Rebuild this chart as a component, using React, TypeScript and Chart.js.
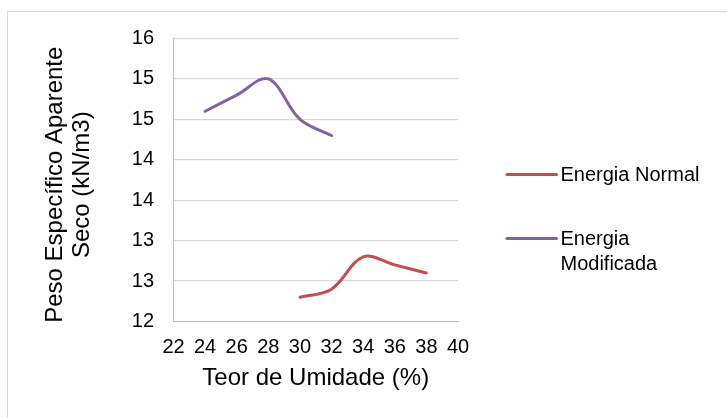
import React, { useEffect, useRef } from "react";
import { Chart, registerables } from "chart.js";

Chart.register(...registerables);

// ---- data ----
const normalMoisture = [30, 32, 34, 36, 38];
const normalWeight = [12.8, 12.9, 13.3, 13.2, 13.1];
const modMoisture = [24, 26, 28, 30, 32];
const modWeight = [15.1, 15.3, 15.5, 15.0, 14.8];
const yTickLabels = ["12", "13", "13", "14", "14", "15", "15", "16"];
const seriesNames = ["Energia Normal", "Energia Modificada"];
const legendLines = [["Energia Normal"], ["Energia", "Modificada"]];
const seriesColors = ["#C0504D", "#8064A2"];
const xTitle = "Teor de Umidade (%)";
const yTitleLines = ["Peso Específico Aparente", "Seco (kN/m3)"];

const FONT = "'Liberation Sans', Arial, sans-serif";

const extrasPlugin = {
  id: "extras",
  afterDraw(chart: any) {
    const ctx = chart.ctx as CanvasRenderingContext2D;
    const area = chart.chartArea;
    ctx.save();
    // y axis title (two lines, rotated)
    ctx.fillStyle = "#000";
    ctx.font = `24px ${FONT}`;
    ctx.textAlign = "center";
    ctx.textBaseline = "middle";
    const cy = (area.top + area.bottom) / 2 + 4.7;
    ctx.save();
    ctx.translate(55.6, cy);
    ctx.rotate(-Math.PI / 2);
    yTitleLines.forEach((line, i) => ctx.fillText(line, 0, i * 26.8));
    ctx.restore();

    // legend
    const rowsY = [174.4, 238.4];
    chart.data.datasets.forEach((ds: any, i: number) => {
      const y = rowsY[i];
      ctx.strokeStyle = ds.borderColor;
      ctx.lineWidth = 3;
      ctx.lineCap = "round";
      ctx.beginPath();
      ctx.moveTo(507, y);
      ctx.lineTo(556.5, y);
      ctx.stroke();
      ctx.fillStyle = "#000";
      ctx.font = `20px ${FONT}`;
      ctx.textAlign = "left";
      ctx.textBaseline = "middle";
      legendLines[i].forEach((line, j) => ctx.fillText(line, 560.5, y + 1 + j * 25));
    });
    ctx.restore();
  },
};

export default function App() {
  const canvasRef = useRef<HTMLCanvasElement | null>(null);

  useEffect(() => {
    const canvas = canvasRef.current;
    if (!canvas) return;
    const chart = new Chart(canvas, {
      type: "line",
      data: {
        datasets: [
          {
            label: seriesNames[0],
            data: normalMoisture.map((x, i) => ({ x, y: normalWeight[i] })),
            borderColor: seriesColors[0],
            backgroundColor: seriesColors[0],
            borderWidth: 3,
            pointRadius: 0,
            tension: 0.35,
            borderCapStyle: "round",
          },
          {
            label: seriesNames[1],
            data: modMoisture.map((x, i) => ({ x, y: modWeight[i] })),
            borderColor: seriesColors[1],
            backgroundColor: seriesColors[1],
            borderWidth: 3,
            pointRadius: 0,
            tension: 0.35,
            borderCapStyle: "round",
          },
        ],
      },
      options: {
        responsive: false,
        animation: false,
        devicePixelRatio: 1,
        layout: { padding: { top: 38.5, right: 269, left: 0, bottom: 0 } },
        plugins: {
          legend: { display: false },
          tooltip: { enabled: false },
          title: { display: false },
        },
        scales: {
          x: {
            type: "linear",
            min: 22,
            max: 40,
            afterFit: (scale: any) => {
              scale.height = 96.5;
            },
            ticks: {
              stepSize: 2,
              padding: 13.6,
              color: "#000",
              font: { family: FONT, size: 20 },
              maxRotation: 0,
              autoSkip: false,
            },
            grid: { display: false, drawTicks: false },
            border: { display: true, color: "#bfbfbf", width: 1 },
            title: {
              display: true,
              text: xTitle,
              color: "#000",
              font: { family: FONT, size: 24 },
              padding: { top: 0, bottom: 25.3 },
            },
          },
          y: {
            type: "linear",
            min: 12.5,
            max: 16,
            afterFit: (scale: any) => {
              scale.width = 173.5;
            },
            ticks: {
              stepSize: 0.5,
              padding: 19.5,
              color: "#000",
              font: { family: FONT, size: 20 },
              callback: (_v: any, i: number) => yTickLabels[i],
            },
            grid: { color: "#d9d9d9", lineWidth: 1.3, drawTicks: false },
            border: { display: true, color: "#bfbfbf", width: 1 },
          },
        },
      },
      plugins: [extrasPlugin],
    } as any);
    return () => chart.destroy();
  }, []);

  return (
    <div
      style={{
        position: "fixed",
        left: 0,
        top: 0,
        width: 727,
        height: 418,
        background: "#fff",
        overflow: "hidden",
      }}
    >
      <div
        style={{
          position: "absolute",
          left: 7,
          top: 11,
          width: 800,
          height: 500,
          border: "1px solid #d9d9d9",
          boxSizing: "border-box",
        }}
      />
      <canvas
        ref={canvasRef}
        width={727}
        height={418}
        style={{ position: "absolute", left: 0, top: 0, width: 727, height: 418 }}
      />
    </div>
  );
}
